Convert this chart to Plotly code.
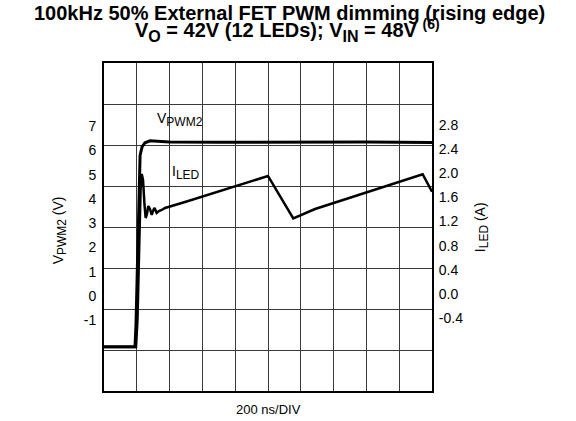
import plotly.graph_objects as go

# scope capture, 200 ns/DIV, 10 x 8 divisions
T_VPWM = [0, 189, 195, 201, 207, 213, 220, 232, 250, 280, 330, 400, 700, 1000, 1300, 1600, 2000]
V_PWM2 = [-2.09, -2.09, -1.2, 0.6, 3.0, 5.0, 5.8, 6.15, 6.32, 6.40, 6.38, 6.35, 6.34, 6.35, 6.34, 6.35, 6.33]

T_ILED = [0, 195, 204, 210, 216, 223, 230, 238, 247, 254, 262, 270, 280, 291, 299, 307,
          314, 321, 335, 352, 372, 392, 494, 1000, 1154, 1287, 1943, 2000]
I_LED = [-0.877, -0.877, -0.430, 0.397, 1.225, 1.722, 1.987, 1.887, 1.474, 1.258, 1.325, 1.457,
         1.407, 1.308, 1.374, 1.424, 1.391, 1.341, 1.374, 1.391, 1.424, 1.440, 1.523, 1.954,
         1.253, 1.407, 1.982, 1.694]

V_TICKS = [-1, 0, 1, 2, 3, 4, 5, 6, 7]
I_TICKS = [-0.4, 0.0, 0.4, 0.8, 1.2, 1.6, 2.0, 2.4, 2.8]

FONT = 'Liberation Sans, Arial, sans-serif'


def sub(s, size=12):
    return f'<sub><span style="font-size:{size}px">{s}</span></sub>'


fig = go.Figure()

# invisible anchor so the grid subplot is drawn
fig.add_trace(go.Scatter(x=[0], y=[0], mode='markers', marker=dict(opacity=0),
                         showlegend=False, hoverinfo='skip'))

fig.add_trace(go.Scatter(
    x=T_VPWM, y=V_PWM2, mode='lines', yaxis='y2', name='VPWM2',
    line=dict(color='black', width=3), showlegend=False,
))
fig.add_trace(go.Scatter(
    x=T_ILED, y=I_LED, mode='lines', yaxis='y3', name='ILED',
    line=dict(color='black', width=2.5), showlegend=False,
))

fig.add_annotation(x=311, y=7.26, xref='x', yref='y2', text='V' + sub('PWM2'),
                   showarrow=False, xanchor='left', yanchor='middle',
                   font=dict(size=14, color='black'))
fig.add_annotation(x=402, y=5.11, xref='x', yref='y2', text='I' + sub('LED'),
                   showarrow=False, xanchor='left', yanchor='middle',
                   font=dict(size=14, color='black'))

# axis titles
fig.add_annotation(x=-0.172, y=0.49, xref='paper', yref='paper', text='V' + sub('PWM2') + ' (V)',
                   textangle=-90, showarrow=False, font=dict(size=14, color='black'))
fig.add_annotation(x=1.185, y=0.50, xref='paper', yref='paper', text='I' + sub('LED') + ' (A)',
                   textangle=-90, showarrow=False, font=dict(size=14, color='black'))
fig.add_annotation(x=0.5, y=-0.057, xref='paper', yref='paper', text='200 ns/DIV',
                   showarrow=False, yanchor='middle', font=dict(size=13, color='black'))

# two-line title
fig.add_annotation(x=0.567, y=1.152, xref='paper', yref='paper', yanchor='middle',
                   text='<b>100kHz 50% External FET PWM dimming (rising edge)</b>',
                   showarrow=False, font=dict(size=20, color='black'))
fig.add_annotation(x=0.56, y=1.098, xref='paper', yref='paper', yanchor='middle',
                   text='<b>V' + sub('O', 16) + ' = 42V (12 LEDs); V' + sub('IN', 16)
                        + ' = 48V <sup><span style="font-size:14px">(6)</span></sup></b>',
                   showarrow=False, font=dict(size=20, color='black'))

fig.update_layout(
    width=576, height=421,
    margin=dict(l=104, r=144, t=63, b=30, autoexpand=False),
    paper_bgcolor='white', plot_bgcolor='white',
    font=dict(family=FONT, size=14, color='black'),
    xaxis=dict(
        range=[0, 2000], dtick=200, tick0=0, showticklabels=False, automargin=False,
        showgrid=True, gridcolor='#3a3a3a', gridwidth=1.2, zeroline=False,
        showline=True, linecolor='black', linewidth=2, mirror=True,
    ),
    yaxis=dict(
        range=[0, 8], dtick=1, tick0=0, showticklabels=False, automargin=False,
        showgrid=True, gridcolor='#3a3a3a', gridwidth=1.2, zeroline=False,
        showline=True, linecolor='black', linewidth=2, mirror=True,
    ),
    yaxis2=dict(
        overlaying='y', side='left', range=[-3.918, 9.608], automargin=False,
        tickmode='array', tickvals=V_TICKS, ticktext=[str(v) for v in V_TICKS],
        showgrid=False, zeroline=False, showline=False,
        ticks='outside', ticklen=4, tickcolor='rgba(0,0,0,0)',
        tickfont=dict(size=14),
    ),
    yaxis3=dict(
        overlaying='y', side='right', range=[-1.606, 3.824], automargin=False,
        tickmode='array', tickvals=I_TICKS, ticktext=[f'{v:.1f}' for v in I_TICKS],
        showgrid=False, zeroline=False, showline=False,
        ticks='outside', ticklen=3, tickcolor='rgba(0,0,0,0)',
        tickfont=dict(size=14),
    ),
)

fig.write_html('out.html', config={'displayModeBar': False},
               post_script="document.body.style.margin='0';")
